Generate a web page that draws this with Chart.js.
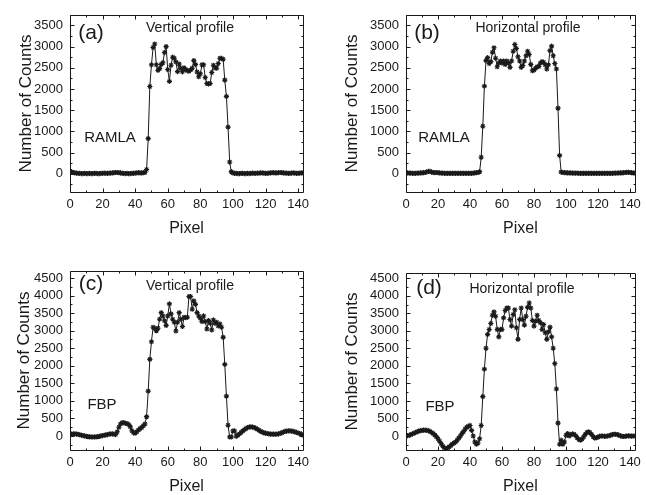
<!DOCTYPE html>
<html><head><meta charset="utf-8">
<script src="https://cdn.jsdelivr.net/npm/chart.js@4/dist/chart.umd.min.js"></script>
<style>
html,body{margin:0;padding:0;background:#fff;}
#wrap{position:relative;width:646px;height:495px;overflow:hidden;}
#wrap canvas{position:absolute;left:0;top:0;}
</style></head><body>
<div id="wrap">
<canvas id="ca" width="646" height="495"></canvas>
<canvas id="cb" width="646" height="495"></canvas>
<canvas id="cc" width="646" height="495"></canvas>
<canvas id="cd" width="646" height="495"></canvas>
</div>
<script>
const pixelIdx = Array.from({length:144},(_,i)=>i);
const xTicks = [0,20,40,60,80,100,120,140];
const yTicksRAMLA = [0,500,1000,1500,2000,2500,3000,3500];
const yTicksFBP = [0,500,1000,1500,2000,2500,3000,3500,4000,4500];
const panelLetters = ['(a)','(b)','(c)','(d)'];
const profileNames = ['Vertical profile','Horizontal profile','Vertical profile','Horizontal profile'];
const methodNames = ['RAMLA','RAMLA','FBP','FBP'];
const xTitle = 'Pixel';
const yTitle = 'Number of Counts';

const vertRAMLA = [
60,45,30,20,15,10,10,5,5,10,
5,5,10,5,5,10,10,5,5,10,
10,15,10,10,15,15,20,25,30,30,
25,20,10,10,5,10,5,5,10,10,
15,20,25,20,20,25,30,100,830,2060,
2570,2980,3060,2570,2440,2480,2580,2620,2860,3000,
2460,2180,2560,2750,2725,2640,2410,2590,2490,2405,
2500,2460,2430,2420,2450,2490,2670,2580,2400,2290,
2360,2570,2570,2270,2130,2120,2130,2390,2560,2500,
2490,2600,2725,2720,2700,2210,1825,1100,277,50,
20,10,10,5,5,10,10,5,5,10,
5,10,15,10,10,15,15,20,20,15,
10,10,15,20,25,25,20,20,25,30,
25,20,15,15,10,10,15,20,15,10,
10,15,20,20];

const horizRAMLA = [
20,20,15,15,10,10,10,15,15,20,
20,25,30,45,55,55,40,30,25,30,
25,20,15,15,10,10,10,10,10,10,
10,10,10,10,10,10,10,10,10,10,
10,10,15,20,25,30,50,388,1122,2067,
2670,2740,2600,2645,2865,2973,2725,2524,2610,2660,
2610,2660,2580,2660,2610,2510,2660,2890,3050,2955,
2760,2660,2510,2555,2660,2785,2890,2815,2580,2430,
2450,2490,2524,2530,2610,2645,2630,2570,2470,2570,
2905,3010,2785,2600,2470,1548,433,40,30,25,
25,20,20,20,15,15,15,15,10,10,
10,10,10,10,10,10,10,10,10,10,
10,10,10,10,10,10,10,10,10,10,
15,15,15,20,20,20,25,30,35,35,
30,25,20,15];

const vertFBP = [
40,50,60,60,55,45,35,20,10,0,
-10,-20,-25,-30,-30,-30,-25,-20,-10,0,
10,20,30,40,50,60,60,50,40,120,
250,340,380,380,360,350,330,260,150,90,
80,120,170,210,240,290,340,550,1277,2183,
2686,3097,3068,3000,3068,3325,3514,3420,3282,3150,
3420,3763,3477,3325,3240,2990,3240,3514,3325,3120,
3382,3370,3382,3972,3972,3610,3848,3750,3514,3420,
3353,3258,3420,3258,3048,3287,3210,3020,3306,3210,
3240,3135,3192,3097,2810,2040,1134,306,-30,-30,
143,143,-10,20,60,100,140,180,210,240,
255,260,255,240,220,190,160,130,110,90,
80,70,60,55,50,50,50,50,60,75,
90,110,130,140,145,145,140,130,115,100,
85,70,50,20];

const horizFBP = [
0,10,20,40,60,80,100,120,140,150,
160,165,165,160,150,130,100,70,30,-20,
-80,-150,-220,-290,-340,-357,-340,-310,-270,-230,
-200,-170,-120,-60,0,68,130,200,250,275,
300,160,0,-170,-236,-200,-80,300,1124,1907,
2502,2898,3040,3210,3444,3540,3415,3040,2827,3040,
3040,3370,3578,3652,3652,3322,3134,3465,3600,3087,
2757,3322,3652,3322,3163,3415,3670,3795,3652,3295,
3134,3276,3444,3295,3228,3040,3181,2945,2757,2973,
3105,2827,2502,2066,1342,368,-235,-120,-235,-170,
20,68,0,40,60,50,10,-50,-100,-120,
-90,-30,40,100,120,100,40,-20,-60,-50,
-30,-10,0,0,-10,-10,0,10,25,40,
50,50,40,25,5,-10,-15,-10,0,5,
0,-5,0,0];

const FONT = 'Liberation Sans, Arial, Helvetica, sans-serif';
const INK = '#1a1a1a';

const panels = [
  {id:'ca', series:vertRAMLA, yTicks:yTicksRAMLA, ymin:-430, ymax:3750,
   box:{l:70,r:303,t:12,b:192}, yTitleX:26, xTitleY:229,
   texts:[[0,91,33,21],[1,190,28,14],[2,110,138,15]]},
  {id:'cb', series:horizRAMLA, yTicks:yTicksRAMLA, ymin:-430, ymax:3750,
   box:{l:406,r:639,t:12,b:192}, yTitleX:352, xTitleY:229,
   texts:[[0,427,33,21],[1,528,28,14],[2,444,138,15]]},
  {id:'cc', series:vertFBP, yTicks:yTicksFBP, ymin:-400, ymax:4700,
   box:{l:70,r:303,t:271,b:450}, yTitleX:24, xTitleY:487,
   texts:[[0,91,284,21],[1,190,286,14],[2,102,405,15]]},
  {id:'cd', series:horizFBP, yTicks:yTicksFBP, ymin:-400, ymax:4650,
   box:{l:406,r:639,t:273,b:450}, yTitleX:352, xTitleY:487,
   texts:[[0,429,288,21],[1,522,289,14],[2,440,407,15]]}
];

const framePlugin = {
  id:'frameTicks',
  afterDraw(chart, args, opts){
    const {ctx, chartArea:a, scales:{x, y}} = chart;
    ctx.save();
    ctx.strokeStyle = INK; ctx.lineWidth = 1;
    const L = Math.round(a.left)+0.5, R = Math.round(a.right)+0.5, T = Math.round(a.top)+0.5, B = Math.round(a.bottom)+0.5;
    ctx.beginPath();
    ctx.rect(L, T, R-L, B-T);
    for (let v = 0; v <= x.max + 1e-6; v += 10) {
      const px = Math.round(x.getPixelForValue(v)) + 0.5;
      const len = (v % 20 === 0) ? 4 : 2;
      ctx.moveTo(px, B); ctx.lineTo(px, B - len);
      ctx.moveTo(px, T); ctx.lineTo(px, T + len);
    }
    const start = Math.ceil(y.min / 250) * 250;
    for (let v = start; v <= y.max + 1e-6; v += 250) {
      const py = Math.round(y.getPixelForValue(v)) + 0.5;
      const len = (v % 500 === 0) ? 4 : 2;
      ctx.moveTo(L, py); ctx.lineTo(L + len, py);
      ctx.moveTo(R, py); ctx.lineTo(R - len, py);
    }
    ctx.stroke();
    ctx.fillStyle = INK;
    ctx.textAlign = 'center'; ctx.textBaseline = 'middle';
    const labels = [panelLetters[opts.idx], profileNames[opts.idx], methodNames[opts.idx]];
    for (const [k, tx, ty, size] of opts.texts) {
      ctx.font = size + 'px ' + FONT;
      ctx.fillText(labels[k], tx, ty);
    }
    ctx.restore();
  }
};

panels.forEach((p, idx) => {
  const pts = p.series.map((v, i) => ({x: pixelIdx[i], y: v}));
  new Chart(document.getElementById(p.id), {
    type: 'line',
    data: { datasets: [{
      data: pts,
      borderColor: INK, borderWidth: 1,
      pointStyle: 'star', pointRadius: 2.6, pointBorderWidth: 1.1,
      pointBorderColor: INK, pointBackgroundColor: INK,
      tension: 0, fill: false
    }]},
    options: {
      responsive: false, animation: false, devicePixelRatio: 1,
      events: [],
      layout: { padding: { left: 0, top: p.box.t, right: 646 - p.box.r, bottom: 0 } },
      plugins: { legend: {display:false}, tooltip: {enabled:false},
        frameTicks: { idx: idx, texts: p.texts } },
      scales: {
        x: {
          type: 'linear', min: 0, max: 143,
          afterBuildTicks: s => { s.ticks = xTicks.map(v => ({value: v})); },
          afterFit: s => { s.height = 495 - p.box.b; },
          grid: {display:false, drawTicks:false}, border: {display:false},
          ticks: {padding: 5, color: INK, font: {size: 13, family: FONT}, maxRotation: 0, autoSkip: false,
                  callback: v => String(v)},
          title: {display: true, text: xTitle, color: INK, font: {size: 16, family: FONT},
                  padding: {top: 0, bottom: 495 - p.xTitleY - 9.6}}
        },
        y: {
          type: 'linear', min: p.ymin, max: p.ymax,
          afterBuildTicks: s => { s.ticks = p.yTicks.map(v => ({value: v})); },
          afterFit: s => { s.width = p.box.l; },
          grid: {display:false, drawTicks:false}, border: {display:false},
          ticks: {padding: 7, color: INK, font: {size: 13, family: FONT}, autoSkip: false,
                  callback: v => String(v)},
          title: {display: true, text: yTitle, color: INK, font: {size: 17, family: FONT},
                  padding: {top: p.yTitleX - 10.2, bottom: 0}}
        }
      }
    },
    plugins: [framePlugin]
  });
});
</script>
</body></html>
